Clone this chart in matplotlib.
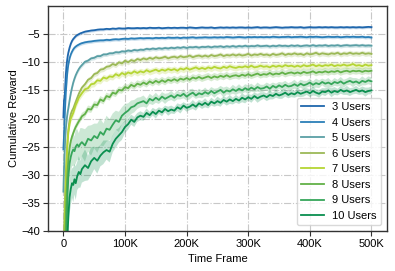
import numpy as np
import matplotlib
matplotlib.use("Agg")
import matplotlib.pyplot as plt
from matplotlib.ticker import FuncFormatter

# time frames (in thousands)
t_k = [0, 1, 2, 3, 4, 5, 6, 7, 8, 10, 12, 14, 16, 18, 20, 22.5, 25, 27.5] + list(range(30, 501, 5))

users3 = [-19.8, -16.8, -16.3, -14.2, -12.1, -10.7, -9.7, -8.9, -8.3, -7.4, -6.7, -6.2, -5.85, -5.6, -5.35, -5.15, -5.0, -4.85,
          -4.75, -4.55, -4.45, -4.35, -4.3, -4.2, -4.15, -4.15, -4.05, -4.1,
          -4.0, -4.05, -3.95, -4.0, -4.0, -3.9, -3.95, -3.95, -3.9, -3.95,
          -3.9, -3.95, -3.85, -3.9, -3.9, -3.85, -3.95, -3.9, -3.85, -3.9,
          -3.85, -3.9, -3.85, -3.85, -3.9, -3.8, -3.85, -3.9, -3.85, -3.8,
          -3.85, -3.85, -3.8, -3.9, -3.85, -3.8, -3.85, -3.8, -3.85, -3.8,
          -3.85, -3.8, -3.8, -3.85, -3.8, -3.85, -3.8, -3.75, -3.85, -3.8,
          -3.8, -3.85, -3.8, -3.75, -3.8, -3.85, -3.8, -3.8, -3.75, -3.8,
          -3.8, -3.75, -3.85, -3.8, -3.75, -3.8, -3.8, -3.75, -3.8, -3.75,
          -3.8, -3.75, -3.8, -3.8, -3.75, -3.8, -3.75, -3.8, -3.75, -3.8,
          -3.75, -3.8, -3.75, -3.7, -3.75]

users4 = [-25.5, -23.0, -20.0, -17.5, -15.3, -13.8, -12.3, -11.2, -10.4, -9.3, -8.6, -8.1, -7.7, -7.4, -7.2, -7.0, -6.85, -6.7,
          -6.6, -6.45, -6.35, -6.3, -6.2, -6.15, -6.1, -6.1, -6.0, -6.05,
          -5.95, -5.9, -5.95, -5.85, -5.8, -5.85, -5.75, -5.8, -5.75, -5.7,
          -5.75, -5.7, -5.7, -5.75, -5.65, -5.7, -5.65, -5.7, -5.6, -5.65,
          -5.65, -5.6, -5.7, -5.6, -5.65, -5.6, -5.55, -5.65, -5.6, -5.6,
          -5.55, -5.6, -5.6, -5.55, -5.6, -5.55, -5.6, -5.5, -5.55, -5.6,
          -5.55, -5.5, -5.55, -5.6, -5.5, -5.55, -5.5, -5.55, -5.5, -5.55,
          -5.5, -5.55, -5.45, -5.5, -5.55, -5.5, -5.5, -5.45, -5.55, -5.5,
          -5.5, -5.45, -5.5, -5.55, -5.45, -5.5, -5.45, -5.5, -5.55, -5.5,
          -5.45, -5.5, -5.5, -5.45, -5.55, -5.5, -5.45, -5.5, -5.45, -5.5,
          -5.5, -5.45, -5.55, -5.5, -5.6]

users5 = [-33.0, -29.0, -26.0, -23.5, -21.8, -20.6, -19.6, -18.8, -18.2, -16.8, -15.5, -14.5, -13.6, -12.9, -12.3, -11.7, -11.2, -10.8,
          -10.5, -9.9, -9.7, -9.3, -9.2, -8.9, -8.9, -8.6, -8.6, -8.4,
          -8.4, -8.2, -8.25, -8.05, -8.1, -7.9, -8.0, -7.8, -7.9, -7.75,
          -7.8, -7.6, -7.7, -7.55, -7.65, -7.5, -7.6, -7.45, -7.55, -7.4,
          -7.5, -7.35, -7.45, -7.3, -7.45, -7.3, -7.35, -7.25, -7.4, -7.25,
          -7.3, -7.2, -7.35, -7.2, -7.25, -7.15, -7.3, -7.15, -7.25, -7.1,
          -7.25, -7.1, -7.2, -7.05, -7.2, -7.1, -7.15, -7.0, -7.15, -7.1,
          -7.05, -7.2, -7.05, -7.15, -7.0, -7.1, -7.05, -7.15, -7.0, -7.1,
          -7.0, -7.15, -7.05, -7.0, -7.1, -6.95, -7.1, -7.0, -7.05, -6.95,
          -7.1, -7.0, -7.05, -6.95, -7.1, -7.0, -6.95, -7.05, -7.0, -6.95,
          -7.05, -6.95, -7.05, -7.0, -7.05]

users6 = [-45.0, -40.0, -36.0, -32.5, -29.5, -27.0, -25.0, -23.3, -22.0, -20.3, -19.2, -18.6, -18.2, -17.6, -17.0, -16.3, -15.6, -15.0,
          -14.5, -13.9, -13.1, -12.8, -12.1, -11.9, -11.3, -11.2, -10.8, -10.7,
          -10.3, -10.5, -10.0, -10.2, -9.7, -10.0, -9.6, -9.8, -9.4, -9.6,
          -9.3, -9.5, -9.2, -9.4, -9.1, -9.3, -9.2, -9.0, -9.3, -9.1,
          -9.0, -9.2, -8.9, -9.1, -9.0, -8.8, -9.1, -8.9, -8.8, -9.0,
          -8.8, -9.0, -8.7, -8.9, -8.8, -8.6, -8.9, -8.7, -8.8, -8.6,
          -8.8, -8.6, -8.8, -8.7, -8.5, -8.8, -8.6, -8.7, -8.5, -8.7,
          -8.6, -8.8, -8.5, -8.7, -8.6, -8.4, -8.7, -8.5, -8.6, -8.4,
          -8.6, -8.5, -8.7, -8.4, -8.6, -8.5, -8.3, -8.6, -8.4, -8.5,
          -8.6, -8.4, -8.5, -8.3, -8.6, -8.4, -8.5, -8.3, -8.5, -8.4,
          -8.5, -8.3, -8.5, -8.4, -8.5]

users7 = [-55.0, -47.0, -41.0, -36.0, -32.0, -28.5, -26.0, -24.0, -22.5, -21.0, -20.0, -19.5, -19.0, -18.3, -17.6, -17.0, -16.3, -15.9,
          -15.5, -14.8, -14.6, -13.9, -13.8, -13.2, -13.3, -12.7, -12.9, -12.5,
          -12.6, -12.1, -12.4, -11.9, -12.2, -11.8, -12.0, -11.6, -11.9, -11.6,
          -11.8, -11.4, -11.7, -11.5, -11.3, -11.6, -11.3, -11.5, -11.2, -11.4,
          -11.2, -11.5, -11.1, -11.3, -11.0, -11.3, -11.1, -10.9, -11.2, -11.0,
          -11.2, -10.9, -11.1, -10.8, -11.0, -11.1, -10.8, -11.0, -10.7, -10.9,
          -11.0, -10.8, -10.9, -10.7, -10.9, -10.6, -10.9, -10.8, -10.6, -10.8,
          -10.7, -10.9, -10.6, -10.8, -10.6, -10.8, -10.5, -10.7, -10.6, -10.8,
          -10.6, -10.8, -10.5, -10.7, -10.6, -10.4, -10.7, -10.5, -10.7, -10.5,
          -10.6, -10.4, -10.7, -10.5, -10.6, -10.4, -10.6, -10.5, -10.3, -10.6,
          -10.5, -10.7, -10.4, -10.6, -10.5]

users8 = [-60.0, -52.0, -46.0, -41.0, -37.0, -33.5, -31.0, -29.0, -27.3, -25.2, -24.0, -23.2, -22.6, -22.0, -21.5, -21.0, -20.5, -20.1,
          -19.6, -19.2, -18.3, -18.4, -17.5, -17.6, -16.6, -16.9, -16.0, -16.2,
          -15.4, -15.6, -14.9, -15.0, -14.4, -14.6, -14.0, -14.3, -13.8, -14.0,
          -13.6, -13.9, -13.4, -13.7, -13.3, -13.6, -13.2, -13.5, -13.1, -13.3,
          -13.0, -13.3, -12.9, -13.1, -12.8, -13.1, -12.7, -12.9, -12.6, -12.9,
          -12.7, -12.5, -12.8, -12.5, -12.7, -12.4, -12.6, -12.3, -12.6, -12.4,
          -12.3, -12.5, -12.2, -12.4, -12.1, -12.4, -12.2, -12.0, -12.3, -12.1,
          -12.2, -11.9, -12.2, -12.0, -12.1, -11.8, -12.1, -11.9, -11.8, -12.0,
          -11.8, -12.0, -11.7, -11.9, -11.8, -11.6, -11.9, -11.7, -11.8, -11.6,
          -11.8, -11.6, -11.7, -11.5, -11.8, -11.6, -11.5, -11.7, -11.5, -11.6,
          -11.5, -11.7, -11.5, -11.6, -11.5]

users9 = [-70.0, -62.0, -55.0, -49.0, -44.0, -40.0, -36.5, -33.0, -30.5, -28.0, -26.8, -26.0, -25.5, -25.8, -25.0, -24.6, -25.0, -24.5,
          -24.2, -24.8, -23.6, -23.9, -23.1, -23.5, -22.4, -22.9, -21.8, -22.0,
          -21.1, -20.3, -20.6, -19.5, -19.0, -18.6, -18.0, -17.8, -17.3, -17.1,
          -16.9, -17.3, -16.5, -16.8, -16.3, -16.7, -16.1, -16.5, -16.2, -15.9,
          -16.3, -15.8, -16.0, -15.6, -16.1, -15.7, -15.4, -15.9, -15.5, -15.7,
          -15.3, -15.6, -15.1, -15.5, -15.2, -14.9, -15.4, -15.0, -15.2, -14.8,
          -15.1, -14.7, -15.0, -14.6, -14.9, -14.5, -14.8, -14.4, -14.7, -14.6,
          -14.3, -14.7, -14.2, -14.5, -14.1, -14.4, -14.0, -14.3, -14.2, -13.9,
          -14.2, -13.8, -14.1, -13.9, -13.6, -14.0, -13.7, -13.9, -13.5, -13.8,
          -13.6, -13.9, -13.5, -13.7, -13.4, -13.8, -13.5, -13.3, -13.6, -13.4,
          -13.7, -13.3, -13.5, -13.2, -13.4]

users10 = [-80.0, -72.0, -65.0, -58.0, -52.0, -47.0, -43.0, -40.0, -37.5, -34.0, -32.5, -31.5, -31.8, -30.8, -31.5, -30.2, -29.5, -29.9,
           -29.0, -28.3, -28.8, -27.6, -27.0, -27.5, -26.6, -26.0, -25.6, -25.9,
           -24.5, -23.6, -23.0, -22.4, -21.5, -21.0, -20.2, -20.6, -19.8, -19.5,
           -19.7, -19.0, -19.4, -18.8, -19.2, -18.6, -18.9, -18.3, -18.7, -18.4,
           -18.6, -18.0, -18.3, -17.7, -18.1, -17.9, -17.5, -17.9, -17.3, -17.6,
           -17.2, -17.6, -17.0, -17.3, -16.9, -17.2, -16.7, -17.0, -16.6, -16.9,
           -16.5, -16.8, -16.3, -16.6, -16.2, -16.5, -16.0, -16.4, -16.1, -15.9,
           -16.2, -15.8, -16.0, -15.6, -15.9, -15.7, -15.4, -15.8, -15.5, -15.7,
           -15.3, -15.6, -15.4, -15.2, -15.5, -15.1, -15.4, -15.6, -15.2, -15.3,
           -15.0, -15.4, -15.1, -15.3, -14.9, -15.2, -15.0, -15.3, -15.1, -14.9,
           -15.2, -15.0, -15.3, -15.1, -15.0]

# shaded spread
band9 = [1.5, 1.5, 1.5, 1.8, 2.0, 2.0, 2.2, 2.3, 2.4, 2.6, 2.8, 2.5, 2.9, 2.6, 3.0, 2.7, 2.4, 2.8,
         2.5, 2.9, 2.3, 2.7, 2.2, 2.6, 2.4, 2.0, 2.3, 1.9,
         2.0, 1.7, 1.8, 1.5, 1.6, 1.3, 1.2, 1.1, 1.0, 0.9,
         1.0, 0.8, 0.9, 0.8, 0.9, 0.7, 0.8, 0.9, 0.7, 0.8,
         0.7, 0.8, 0.6, 0.8, 0.7, 0.9, 0.7, 0.6, 0.8, 0.7,
         0.8, 0.6, 0.7, 0.8, 0.6, 0.7, 0.9, 0.7, 0.6, 0.8,
         0.7, 0.8, 0.6, 0.7, 0.8, 0.7, 0.6, 0.8, 0.7, 0.6,
         0.7, 0.8, 0.6, 0.7, 0.6, 0.8, 0.7, 0.6, 0.7, 0.8,
         0.6, 0.7, 0.8, 0.6, 0.7, 0.6, 0.8, 0.7, 0.6, 0.7,
         0.8, 0.6, 0.7, 0.6, 0.8, 0.7, 0.6, 0.7, 0.8, 0.6,
         0.7, 0.8, 0.6, 0.7, 0.7]

band10 = [2.0, 2.0, 2.0, 2.2, 2.4, 2.5, 2.6, 2.8, 2.7, 2.9, 3.0, 2.6, 3.1, 2.7, 3.0, 2.5, 2.8, 2.4,
          2.4, 2.8, 2.2, 2.5, 2.0, 2.3, 1.9, 2.1, 1.7, 1.9,
          1.5, 1.6, 1.3, 1.4, 1.1, 1.0, 0.9, 0.9, 0.8, 0.8,
          0.7, 0.8, 0.6, 0.7, 0.8, 0.6, 0.7, 0.6, 0.8, 0.7,
          0.6, 0.7, 0.8, 0.6, 0.7, 0.6, 0.8, 0.7, 0.6, 0.7,
          0.8, 0.6, 0.7, 0.6, 0.8, 0.7, 0.6, 0.7, 0.8, 0.6,
          0.7, 0.6, 0.8, 0.7, 0.6, 0.7, 0.6, 0.8, 0.7, 0.6,
          0.7, 0.8, 0.6, 0.7, 0.6, 0.8, 0.7, 0.6, 0.7, 0.6,
          0.8, 0.6, 0.7, 0.6, 0.7, 0.8, 0.6, 0.7, 0.6, 0.7,
          0.6, 0.8, 0.7, 0.6, 0.7, 0.6, 0.8, 0.7, 0.6, 0.7,
          0.6, 0.7, 0.8, 0.6, 0.7]

band_const = [0.25, 0.3, 0.35, 0.45, 0.55, 0.6]

labels = ["3 Users", "4 Users", "5 Users", "6 Users", "7 Users", "8 Users", "9 Users", "10 Users"]
colors = ["#1f67ad", "#2b7fb8", "#5a9fa5", "#9cb957", "#b5d534", "#62b148", "#36a65a", "#0a8f4f"]

plt.rcParams["font.family"] = ["Liberation Sans", "DejaVu Sans"]
plt.rcParams["font.size"] = 8

t = np.array(t_k) * 1000
series = [users3, users4, users5, users6, users7, users8, users9, users10]
bands = [np.full(len(t), b) for b in band_const] + [np.array(band9), np.array(band10)]

fig = plt.figure(figsize=(3.95, 2.71), dpi=100)
ax = fig.add_axes([0.1215, 0.1476, 0.858, 0.830])

for y, sd, c, lab in zip(series, bands, colors, labels):
    y = np.array(y)
    ax.fill_between(t, y - sd, y + sd, color=c, alpha=0.25, linewidth=0)
    ax.plot(t, y, color=c, lw=1.3, label=lab)

ax.set_xlim(-25000, 525000)
ax.set_ylim(-40, 0)
ax.set_yticks(np.arange(-40, -4, 5))
ax.set_xticks(np.arange(0, 500001, 100000))
ax.xaxis.set_major_formatter(FuncFormatter(lambda v, p: "0" if v == 0 else f"{int(v / 1000)}K"))

ax.grid(True, linestyle="-.", color="#c8c8c8", linewidth=0.8)
ax.set_axisbelow(True)
for s in ax.spines.values():
    s.set_color("#333333")
    s.set_linewidth(1.0)
ax.tick_params(direction="out", length=3.5, width=0.8, color="#333333", labelsize=8, pad=2)

ax.set_xlabel("Time Frame", labelpad=4)
ax.set_ylabel("Cumulative Reward", labelpad=2)

leg = ax.legend(loc="lower right", fontsize=8, frameon=True, fancybox=True,
                borderaxespad=0.5, handlelength=2.0)
leg.get_frame().set_edgecolor("#d0d0d0")

fig.savefig("out.png", dpi=100)
